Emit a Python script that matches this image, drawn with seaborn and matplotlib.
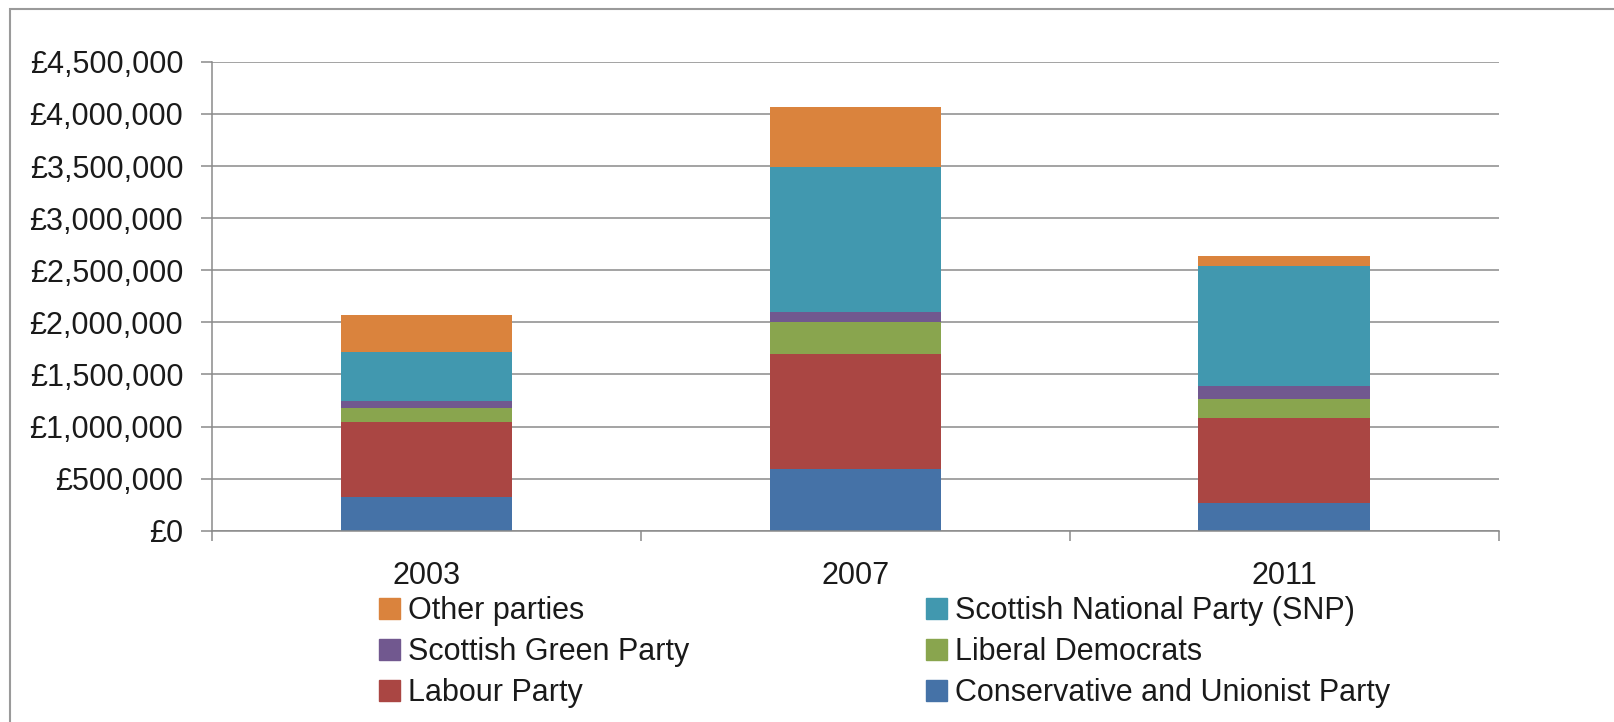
import matplotlib
matplotlib.use("Agg")
import matplotlib.pyplot as plt
import matplotlib.patches as mpatches
from matplotlib.ticker import FuncFormatter, FixedLocator
import seaborn as sns
import numpy as np

years = ["2003", "2007", "2011"]
# stacked from bottom to top
parties = [
    "Conservative and Unionist Party",
    "Labour Party",
    "Liberal Democrats",
    "Scottish Green Party",
    "Scottish National Party (SNP)",
    "Other parties",
]
conservative = [320000, 595000, 269000]
labour = [726000, 1104000, 815000]
libdem = [131000, 301000, 180000]
green = [65000, 102000, 128000]
snp = [473000, 1385000, 1148000]
other = [358000, 579000, 93000]
colors = ["#4572A7", "#AA4643", "#89A54E", "#71588F", "#4198AF", "#DA833D"]
yticks = [0, 500000, 1000000, 1500000, 2000000, 2500000, 3000000, 3500000, 4000000, 4500000]

series = [conservative, labour, libdem, green, snp, other]

sns.set_theme(style="white")
plt.rcParams["font.family"] = ["Liberation Sans", "DejaVu Sans"]

fig = plt.figure(figsize=(16.15, 7.22), dpi=100)
ax = fig.add_axes([212.3 / 1615, 1 - 530.7 / 722, (1498.6 - 212.3) / 1615, (530.7 - 61.8) / 722])

grid_c = "#8a8a8a"
txt_c = "#1a1a1a"
fs = 22
ax.set_axisbelow(True)
for yv in yticks:
    ax.axhline(yv, color=grid_c, lw=1.1, zorder=0)

bottom = np.zeros(len(years))
handles = {}
for name, vals, c in zip(parties, series, colors):
    sns.barplot(x=years, y=vals, bottom=bottom, color=c, width=0.4,
                errorbar=None, ax=ax, edgecolor="none", linewidth=0, saturation=1, zorder=2)
    bottom = bottom + np.array(vals)
    handles[name] = mpatches.Patch(color=c, label=name)

ax.set_xlim(-0.5, 2.5)
ax.set_ylim(0, 4500000)
ax.set_yticks(yticks)
ax.yaxis.set_major_formatter(FuncFormatter(lambda v, p: "£{:,.0f}".format(v)))
ax.set_xticks([0, 1, 2])
ax.set_xticklabels(years)
ax.xaxis.set_minor_locator(FixedLocator([-0.5, 0.5, 1.5, 2.5]))
ax.tick_params(axis="x", which="major", length=0, pad=22, labelsize=fs, colors=txt_c)
ax.tick_params(axis="x", which="minor", length=7, width=1.1, color=grid_c, bottom=True)
ax.tick_params(axis="y", length=8, width=1.1, color=grid_c, pad=13, labelsize=fs,
               labelcolor=txt_c, left=True)

for s in ["top", "right"]:
    ax.spines[s].set_visible(False)
ax.spines["left"].set_color(grid_c)
ax.spines["left"].set_linewidth(1.1)
ax.spines["bottom"].set_color(grid_c)
ax.spines["bottom"].set_linewidth(1.1)
ax.set_xlabel("")
ax.set_ylabel("")

order = ["Other parties", "Scottish Green Party", "Labour Party",
         "Scottish National Party (SNP)", "Liberal Democrats",
         "Conservative and Unionist Party"]
leg = fig.legend(handles=[handles[o] for o in order], labels=order, ncol=2,
                 loc="upper left", bbox_to_anchor=(379 / 1615, 1 - 596 / 722),
                 frameon=False, fontsize=fs, handlelength=0.7, handleheight=0.7,
                 handletextpad=0.25, labelspacing=0.36, columnspacing=7.75,
                 borderpad=0, borderaxespad=0)
for t in leg.get_texts():
    t.set_color(txt_c)

# outer border
fig.add_artist(mpatches.Rectangle((10 / 1615, -0.05), 1.1, 1 - 8.5 / 722 + 0.05,
                                  transform=fig.transFigure, fill=False,
                                  edgecolor="#9a9a9a", lw=1.5))

fig.savefig("out.png", dpi=100)
